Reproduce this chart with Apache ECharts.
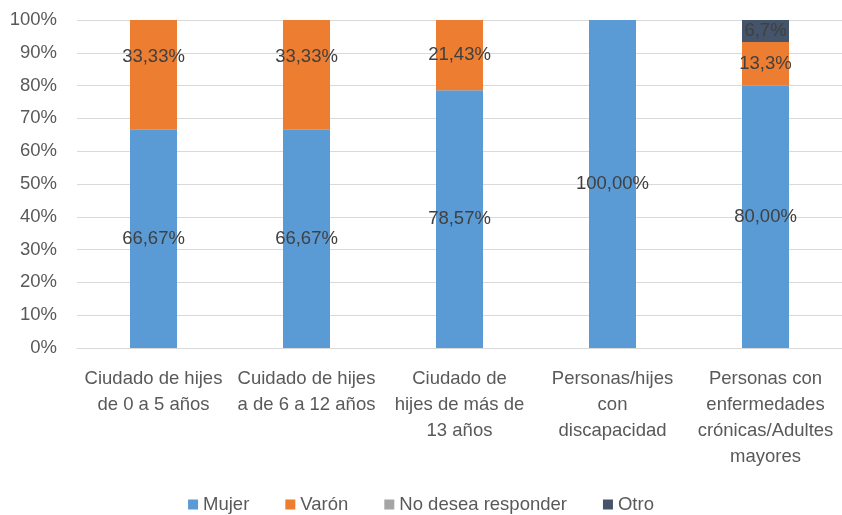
<!DOCTYPE html>
<html>
<head>
<meta charset="utf-8">
<script src="https://cdn.jsdelivr.net/npm/echarts@6/dist/echarts.min.js"></script>
<style>
  html, body { margin: 0; padding: 0; background: #fff; }
  #myChart { width: 842px; height: 515px; }
</style>
</head>
<body>
<div id="myChart"></div>
<script>
// categorías del eje x
const categories = [
  'Ciudado de hijes\nde 0 a 5 años',
  'Cuidado de hijes\na de 6 a 12 años',
  'Ciudado de\nhijes de más de\n13 años',
  'Personas/hijes\ncon\ndiscapacidad',
  'Personas con\nenfermedades\ncrónicas/Adultes\nmayores'
];
const seriesNames = ['Mujer', 'Varón', 'No desea responder', 'Otro'];

// valores (%)
const mujer = [66.67, 66.67, 78.57, 100, 80];
const varon = [33.33, 33.33, 21.43, 0, 13.3];
const noDesea = [0, 0, 0, 0, 0];
const otro = [0, 0, 0, 0, 6.7];

// etiquetas tal como aparecen
const mujerLabels = ['66,67%', '66,67%', '78,57%', '100,00%', '80,00%'];
const varonLabels = ['33,33%', '33,33%', '21,43%', '', '13,3%'];
const noDeseaLabels = ['', '', '', '', ''];
const otroLabels = ['', '', '', '', '6,7%'];

const yTicks = [0, 10, 20, 30, 40, 50, 60, 70, 80, 90, 100];

const colors = ['#5B9BD5', '#ED7D31', '#A5A5A5', '#44546A'];
const font = '"Liberation Sans Narrow", "Liberation Sans", sans-serif';
const textColor = '#595959';

let myChart = echarts.init(document.getElementById('myChart'));

function makeSeries(name, values, labels, offsets) {
  return {
    name: name,
    type: 'bar',
    stack: 'total',
    barWidth: 47,
    data: values.map((v, i) => ({
      value: v,
      label: offsets && offsets[i] ? { offset: offsets[i] } : undefined
    })),
    label: {
      show: true,
      position: 'inside',
      color: '#404040',
      fontFamily: font,
      fontSize: 18.5,
      formatter: p => labels[p.dataIndex]
    }
  };
}

let option = {
  color: colors,
  animation: false,
  textStyle: { fontFamily: font },
  grid: { left: 77, right: 0, top: 20, bottom: 167, containLabel: false },
  legend: {
    bottom: -4,
    left: 'center',
    itemWidth: 10,
    itemHeight: 10,
    itemGap: 36,
    icon: 'rect',
    textStyle: { color: textColor, fontSize: 18.5, fontFamily: font },
    data: seriesNames
  },
  xAxis: {
    type: 'category',
    data: categories,
    axisTick: { show: false },
    axisLine: { lineStyle: { color: '#D9D9D9' } },
    axisLabel: {
      color: textColor,
      fontSize: 18.5,
      lineHeight: 26,
      interval: 0,
      margin: 18,
      fontFamily: font
    }
  },
  yAxis: {
    type: 'value',
    min: yTicks[0],
    max: yTicks[yTicks.length - 1],
    interval: 10,
    axisLine: { show: false },
    axisTick: { show: false },
    splitLine: { lineStyle: { color: '#D9D9D9' } },
    axisLabel: {
      color: textColor,
      fontSize: 18.5,
      margin: 20,
      fontFamily: font,
      formatter: '{value}%'
    }
  },
  series: [
    makeSeries(seriesNames[0], mujer, mujerLabels),
    makeSeries(seriesNames[1], varon, varonLabels, [[0, -18], [0, -18]]),
    makeSeries(seriesNames[2], noDesea, noDeseaLabels),
    makeSeries(seriesNames[3], otro, otroLabels)
  ]
};
myChart.setOption(option);
</script>
</body>
</html>
